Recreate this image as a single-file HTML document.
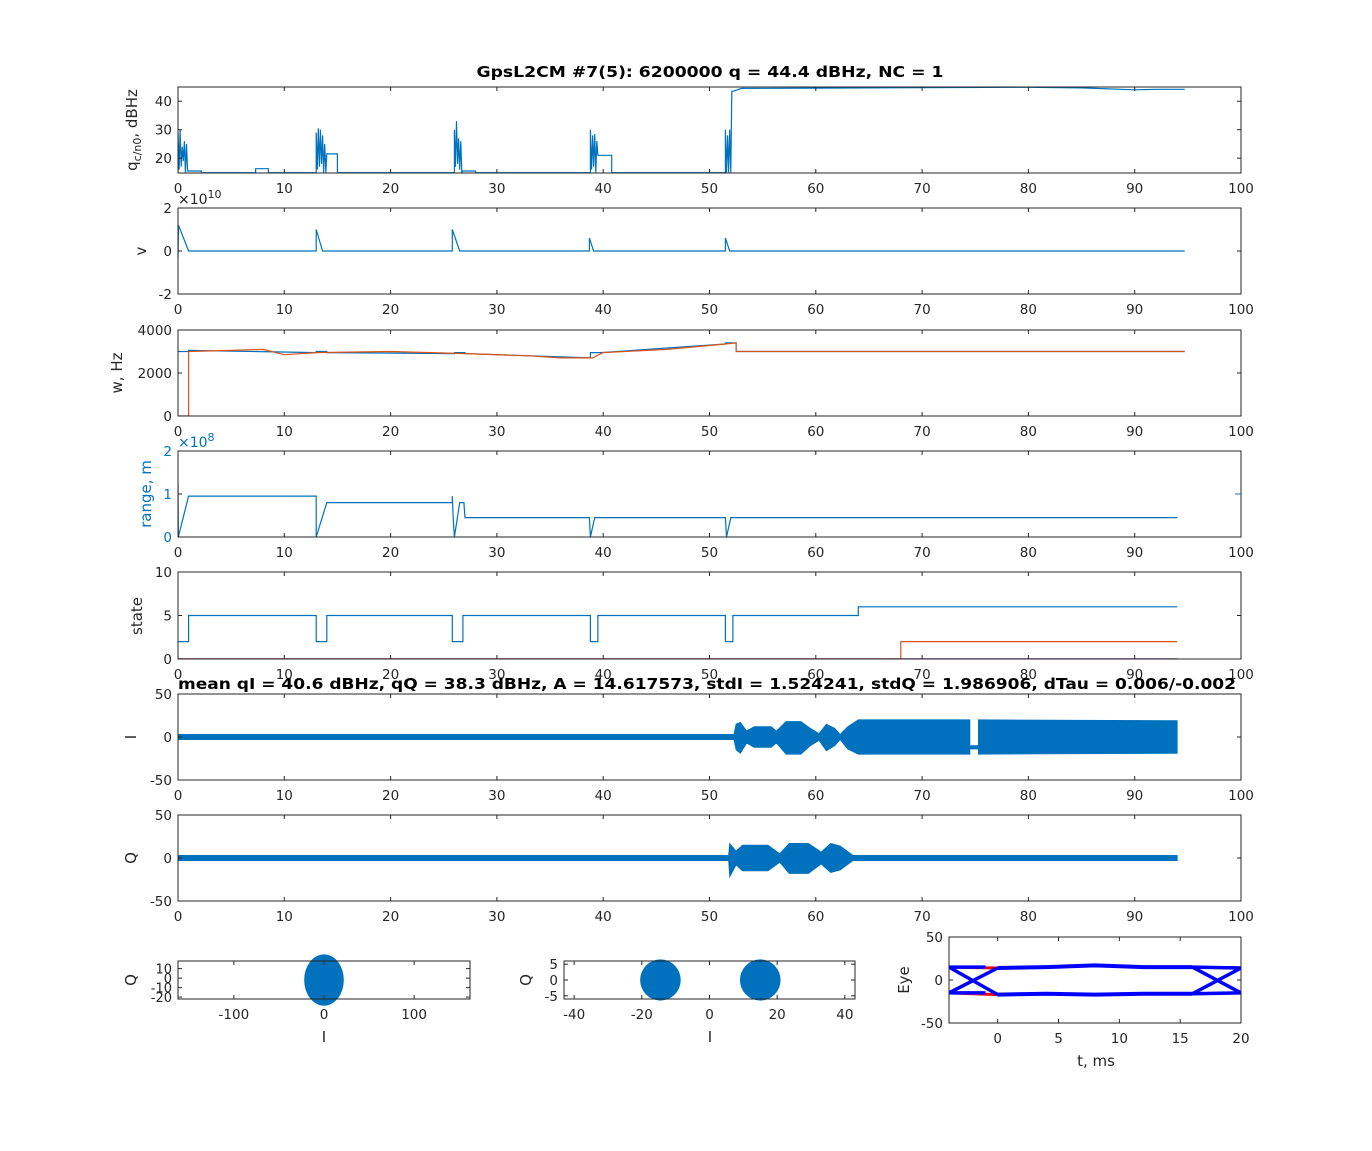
<!DOCTYPE html>
<html><head><meta charset="utf-8">
<style>
html,body{margin:0;padding:0;background:#fff;}
svg{display:block;font-family:"DejaVu Sans","Liberation Sans",sans-serif;}
</style></head>
<body>
<svg id="fig" width="1372" height="1151" viewBox="0 0 1372 1151" xmlns="http://www.w3.org/2000/svg"></svg>
<script>
// ---------- data ----------
const qT = [0,0.1,0.2,0.3,0.4,0.5,0.6,0.7,0.8,0.9,2.2,2.2,7.3,7.3,8.5,8.5,13.0,13.0,13.1,13.2,13.3,13.4,13.5,13.6,13.7,13.8,13.9,14.0,15.0,15.0,26.0,26.0,26.1,26.2,26.3,26.4,26.5,26.6,26.7,26.8,28.0,28.0,38.8,38.8,38.9,39.0,39.1,39.2,39.3,39.4,39.5,40.8,40.8,51.5,51.5,51.6,51.7,51.8,51.9,52.0,52.1,52.2,53.0,60,70,80,85,90,92,94.7];
const qV = [29,16,30,17,24,19,26,15,25,15.5,15.5,14.9,14.9,16.3,16.3,14.9,14.9,29,16,30.5,17,30,18,28,15,25,15,21.5,21.5,14.9,14.9,30,17,33,18,27,16,26,15,15.5,15.5,14.9,14.9,30,16,28,17,28.5,15,26,21,21,14.9,14.9,30,15,28,15,30,15,43.5,43.5,44.5,44.6,44.8,44.9,44.7,44.0,44.2,44.2];
const vT = [0,0.05,1.0,13.0,13.0,13.6,25.8,25.8,26.5,38.7,38.7,39.1,51.5,51.5,51.9,94.7];
const vV = [-0.3,1.2,0,0,1.0,0,0,1.0,0,0,0.6,0,0,0.6,0,0];
const wOT = [0,1.0,1.0,5,8,10,13,20,27,33,36,39,40,46,51.5,52.5,52.5,94.7];
const wOV = [0,0,3000,3050,3100,2850,2950,3000,2900,2800,2700,2700,2950,3100,3350,3400,3000,3000];
const wBT = [0,1,1,13,13,14,14,26,26,27,27,38.8,38.8,39.8,39.8,51.5,51.5,52.5,52.5,94.7];
const wBV = [3000,3000,3050,2950,3000,3000,2950,2900,2950,2950,2900,2700,2950,2950,2950,3350,3400,3400,3000,3000];
const rT = [0,0.02,0.03,1.0,13.0,13.0,14.0,25.8,25.8,25.9,26.0,26.5,26.9,27.0,38.7,38.8,39.2,51.5,51.6,52.0,94];
const rV = [1.25,0.5,0.0,0.95,0.95,0.0,0.8,0.8,0.95,0.4,0.0,0.8,0.8,0.45,0.45,0.0,0.45,0.45,0.0,0.45,0.45];
const sBT = [0,1,1,13,13,14,14,25.8,25.8,26.8,26.8,38.8,38.8,39.5,39.5,51.5,51.5,52.2,52.2,64,64,94];
const sBV = [2,2,5,5,2,2,5,5,2,2,5,5,2,2,5,5,2,2,5,5,6,6];
const sOT = [0,68,68,94];
const sOV = [0,0,2,2];
const iT = [0,52.3,52.5,52.9,53.5,54.2,55.8,56.3,57.2,58.6,59.5,60.3,61.0,61.8,62.3,63.0,64.0,74.5,74.5,75.3,75.3,94];
const iHi = [3,3,15,17,7,12,12,7,18,18,10,4,15,10,3,12,20,20,-10,-10,20,19];
const iLo = [-3,-3,-15,-19,-7,-12,-12,-7,-20,-20,-10,-4,-16,-10,-3,-14,-20,-20,-14,-14,-20,-19];
const qQT = [0,51.8,51.9,52.5,53.1,55.5,56.6,57.5,59.3,60.5,61.4,62.3,63.5,94];
const qQHi = [3,3,17,8,15,15,5,17,17,7,17,14,3,3];
const qQLo = [-3,-3,-22,-8,-15,-15,-5,-18,-18,-7,-17,-14,-3,-3];
const sc1Cx = [0]; const sc1Rx = [22]; const sc1Ry = [27];
const sc2Cx = [-14.5,15]; const sc2Rx = [6,6]; const sc2Ry = [6.5,6.5];
const eyeT = [-4,0,4,8,12,16,20];
const eyeHi = [15,14,15,17,15,15,14];
const eyeLo = [-15,-17,-16,-17,-16,-16,-15];
const xTicks = [0,10,20,30,40,50,60,70,80,90,100];

// ---------- helpers ----------
const NS="http://www.w3.org/2000/svg";
const svg=document.getElementById('fig');
function mk(tag,attrs,parent){const e=document.createElementNS(NS,tag);for(const k in attrs)e.setAttribute(k,attrs[k]);(parent||svg).appendChild(e);return e;}
function txt(x,y,s,opt,parent){const t=mk('text',Object.assign({x:x,y:y,'font-size':13.5,fill:'#262626','text-anchor':'middle'},opt||{}),parent);t.textContent=s;return t;}
let clipN=0;
function axes(name,L,T,R,B,x0,x1,y0,y1){
  const g=mk('g',{});
  
  
  const sx=v=>L+(v-x0)/(x1-x0)*(R-L);
  const sy=v=>B-(v-y0)/(y1-y0)*(B-T);
  const id='c'+(clipN++);
  const cp=mk('clipPath',{id:id},g);mk('rect',{x:L,y:T,width:R-L,height:B-T},cp);
  const dg=mk('g',{'clip-path':'url(#'+id+')'},g);
  return {g,dg,sx,sy,L,T,R,B};
}
function frame(a,xt,yt){
  mk('rect',{x:a.L,y:a.T,width:a.R-a.L,height:a.B-a.T,fill:'none',stroke:'#262626','stroke-width':1},a.g);
  xt.forEach(v=>{const x=a.sx(v);mk('line',{x1:x,y1:a.B,x2:x,y2:a.B-4,stroke:'#262626'},a.g);mk('line',{x1:x,y1:a.T,x2:x,y2:a.T+4,stroke:'#262626'},a.g);
    const t=txt(x,a.B+20,String(v),{},a.g);});
  yt.forEach(v=>{const y=a.sy(v);mk('line',{x1:a.L,y1:y,x2:a.L+4,y2:y,stroke:'#262626'},a.g);mk('line',{x1:a.R,y1:y,x2:a.R-4,y2:y,stroke:'#262626'},a.g);
    const t=txt(a.L-6,y+5,String(v),{'text-anchor':'end'},a.g);});
}
function line(a,T,V,color,w,name){
  const p=T.map((t,i)=>a.sx(t).toFixed(1)+','+a.sy(V[i]).toFixed(1)).join(' ');
  const e=mk('polyline',{points:p,fill:'none',stroke:color,'stroke-width':w||1},a.dg);
  
  
}
function band(a,T,H,Lo,color,name){
  let p=T.map((t,i)=>a.sx(t).toFixed(1)+','+a.sy(H[i]).toFixed(1));
  for(let i=T.length-1;i>=0;i--)p.push(a.sx(T[i]).toFixed(1)+','+a.sy(Lo[i]).toFixed(1));
  const e=mk('polygon',{points:p.join(' '),fill:color,stroke:color,'stroke-width':0.8},a.dg);
  
  
}
function ylabel(x,y,s,color,name){const t=txt(x,y,s,{transform:'rotate(-90 '+x+' '+y+')',fill:color||'#262626','font-size':15});return t;}
const BLUE='#0072bd',ORANGE='#d95319',PURPLE='#7e2f8e';

// title
let tt=txt(710,77,'GpsL2CM #7(5): 6200000 q = 44.4 dBHz,  NC = 1',{'font-weight':'bold','font-size':15,fill:'#000',textLength:467,lengthAdjust:'spacingAndGlyphs','xml:space':'preserve'});



// panel 1
let a=axes('cn0-panel',178,87,1241,173,0,100,14.8,45);
line(a,qT,qV,BLUE,1.2,'cn0-line');
frame(a,xTicks,[20,30,40]);
let yl=mk('text',{x:0,y:0,'font-size':15,fill:'#262626','text-anchor':'middle',transform:'translate(137 130) rotate(-90)'});
yl.innerHTML='q<tspan font-size="11" dy="4">c/n0</tspan><tspan dy="-4">, dBHz</tspan>';



// panel 2
a=axes('v-panel',178,208,1241,294,0,100,-2,2);
line(a,vT,vV,BLUE,1.2,'v-line');
frame(a,xTicks,[-2,0,2]);
ylabel(146,251,'v','#262626','v-y-label');
let ex=mk('text',{x:178,y:204,'font-size':14,fill:'#262626'});ex.innerHTML='×10<tspan font-size="11" dy="-6">10</tspan>';



// panel 3
a=axes('w-panel',178,330,1241,416,0,100,0,4000);
line(a,wBT,wBV,BLUE,1.2,'w-blue-line');
line(a,wOT,wOV,ORANGE,1.2,'w-orange-line');
frame(a,xTicks,[0,2000,4000]);
ylabel(122,373,'w, Hz','#262626','w-y-label');

// panel 4
a=axes('range-panel',178,451,1241,537,0,100,0,2);
line(a,rT,rV,BLUE,1.2,'range-line');
frame(a,xTicks,[0,1,2]);
a.g.querySelectorAll('text').forEach(t=>{if(t.getAttribute('text-anchor')==='end')t.setAttribute('fill',BLUE);});
mk('line',{x1:1235,y1:a.sy(1),x2:1241,y2:a.sy(1),stroke:BLUE},a.g);
ylabel(151,494,'range, m',BLUE,'range-y-label');
ex=mk('text',{x:178,y:447,'font-size':14,fill:BLUE});ex.innerHTML='×10<tspan font-size="11" dy="-6">8</tspan>';



// panel 5
a=axes('state-panel',178,572,1241,659,0,100,0,10);
line(a,[0,94],[0,0],PURPLE,1.5,'state-purple-line');
line(a,sOT,sOV,ORANGE,1.2,'state-orange-line');
line(a,sBT,sBV,BLUE,1.2,'state-blue-line');
frame(a,xTicks,[0,5,10]);
ylabel(142,616,'state','#262626','state-y-label');

// panel 6
a=axes('i-panel',178,694,1241,780,0,100,-50,50);
band(a,iT,iHi,iLo,BLUE,'i-signal');
frame(a,xTicks,[-50,0,50]);
ylabel(136,737,'I','#262626','i-y-label');
tt=txt(707,689,'mean qI = 40.6 dBHz, qQ = 38.3 dBHz, A = 14.617573, stdI = 1.524241, stdQ = 1.986906, dTau = 0.006/-0.002',{'font-weight':'bold','font-size':15,fill:'#000',textLength:1058,lengthAdjust:'spacingAndGlyphs'});



// panel 7
a=axes('q-panel',178,815,1241,901,0,100,-50,50);
band(a,qQT,qQHi,qQLo,BLUE,'q-signal');
frame(a,xTicks,[-50,0,50]);
ylabel(136,858,'Q','#262626','q-y-label');

// scatter 1
a=axes('iq-scatter-wide',178,961,470,999,-162,162,-22,18);
sc1Cx.forEach((c,i)=>{const e=mk('ellipse',{cx:a.sx(c),cy:a.sy(-2),rx:Math.abs(a.sx(c+sc1Rx[i])-a.sx(c)),ry:Math.abs(a.sy(sc1Ry[i])-a.sy(0)),fill:BLUE},a.g);
 });
frame(a,[-100,0,100],[-20,-10,0,10]);
a.g.querySelectorAll('text').forEach(t=>{if(t.getAttribute('text-anchor')==='end'){t.setAttribute('font-size','13');}});
ylabel(136,980,'Q','#262626','scatter1-y-label');
tt=txt(324,1042,'I',{'font-size':15});

// scatter 2
a=axes('iq-scatter-zoom',564,961,855,999,-43,43,-6,6);
sc2Cx.forEach((c,i)=>{const e=mk('ellipse',{cx:a.sx(c),cy:a.sy(0),rx:Math.abs(a.sx(c+sc2Rx[i])-a.sx(c)),ry:Math.abs(a.sy(sc2Ry[i])-a.sy(0)),fill:BLUE},a.g);
 });
frame(a,[-40,-20,0,20,40],[-5,0,5]);
ylabel(531,980,'Q','#262626','scatter2-y-label');
tt=txt(710,1042,'I',{'font-size':15});

// eye
a=axes('eye-panel',949,937,1241,1023,-4,20,-50,50);
line(a,eyeT,eyeHi,'#ff0000',3,'eye-red-top');
line(a,eyeT,eyeLo,'#ff0000',3,'eye-red-bottom');
line(a,eyeT.slice(1,6),eyeHi.slice(1,6),'#0000ff',4,'eye-blue-top');
line(a,eyeT.slice(1,6),eyeLo.slice(1,6),'#0000ff',4,'eye-blue-bottom');
line(a,[-4,0],[eyeHi[0],eyeLo[1]],'#0000ff',3.5,'eye-cross-left-1');
line(a,[-4,0],[eyeLo[0],eyeHi[1]],'#0000ff',3.5,'eye-cross-left-2');
line(a,[-4,-1],[eyeHi[0],eyeHi[0]],'#0000ff',3.5,'eye-left-top');
line(a,[-4,-1],[eyeLo[0],eyeLo[0]],'#0000ff',3.5,'eye-left-bottom');
line(a,[16,20],[eyeHi[5],eyeLo[6]],'#0000ff',3.5,'eye-cross-right-1');
line(a,[16,20],[eyeLo[5],eyeHi[6]],'#0000ff',3.5,'eye-cross-right-2');
line(a,[16,20],[eyeHi[5],eyeHi[6]],'#0000ff',3.5,'eye-right-top');
line(a,[16,20],[eyeLo[5],eyeLo[6]],'#0000ff',3.5,'eye-right-bottom');
frame(a,[0,5,10,15,20],[-50,0,50]);
ylabel(909,980,'Eye','#262626','eye-y-label');
tt=txt(1096,1066,'t, ms',{'font-size':15});
</script>
</body></html>
